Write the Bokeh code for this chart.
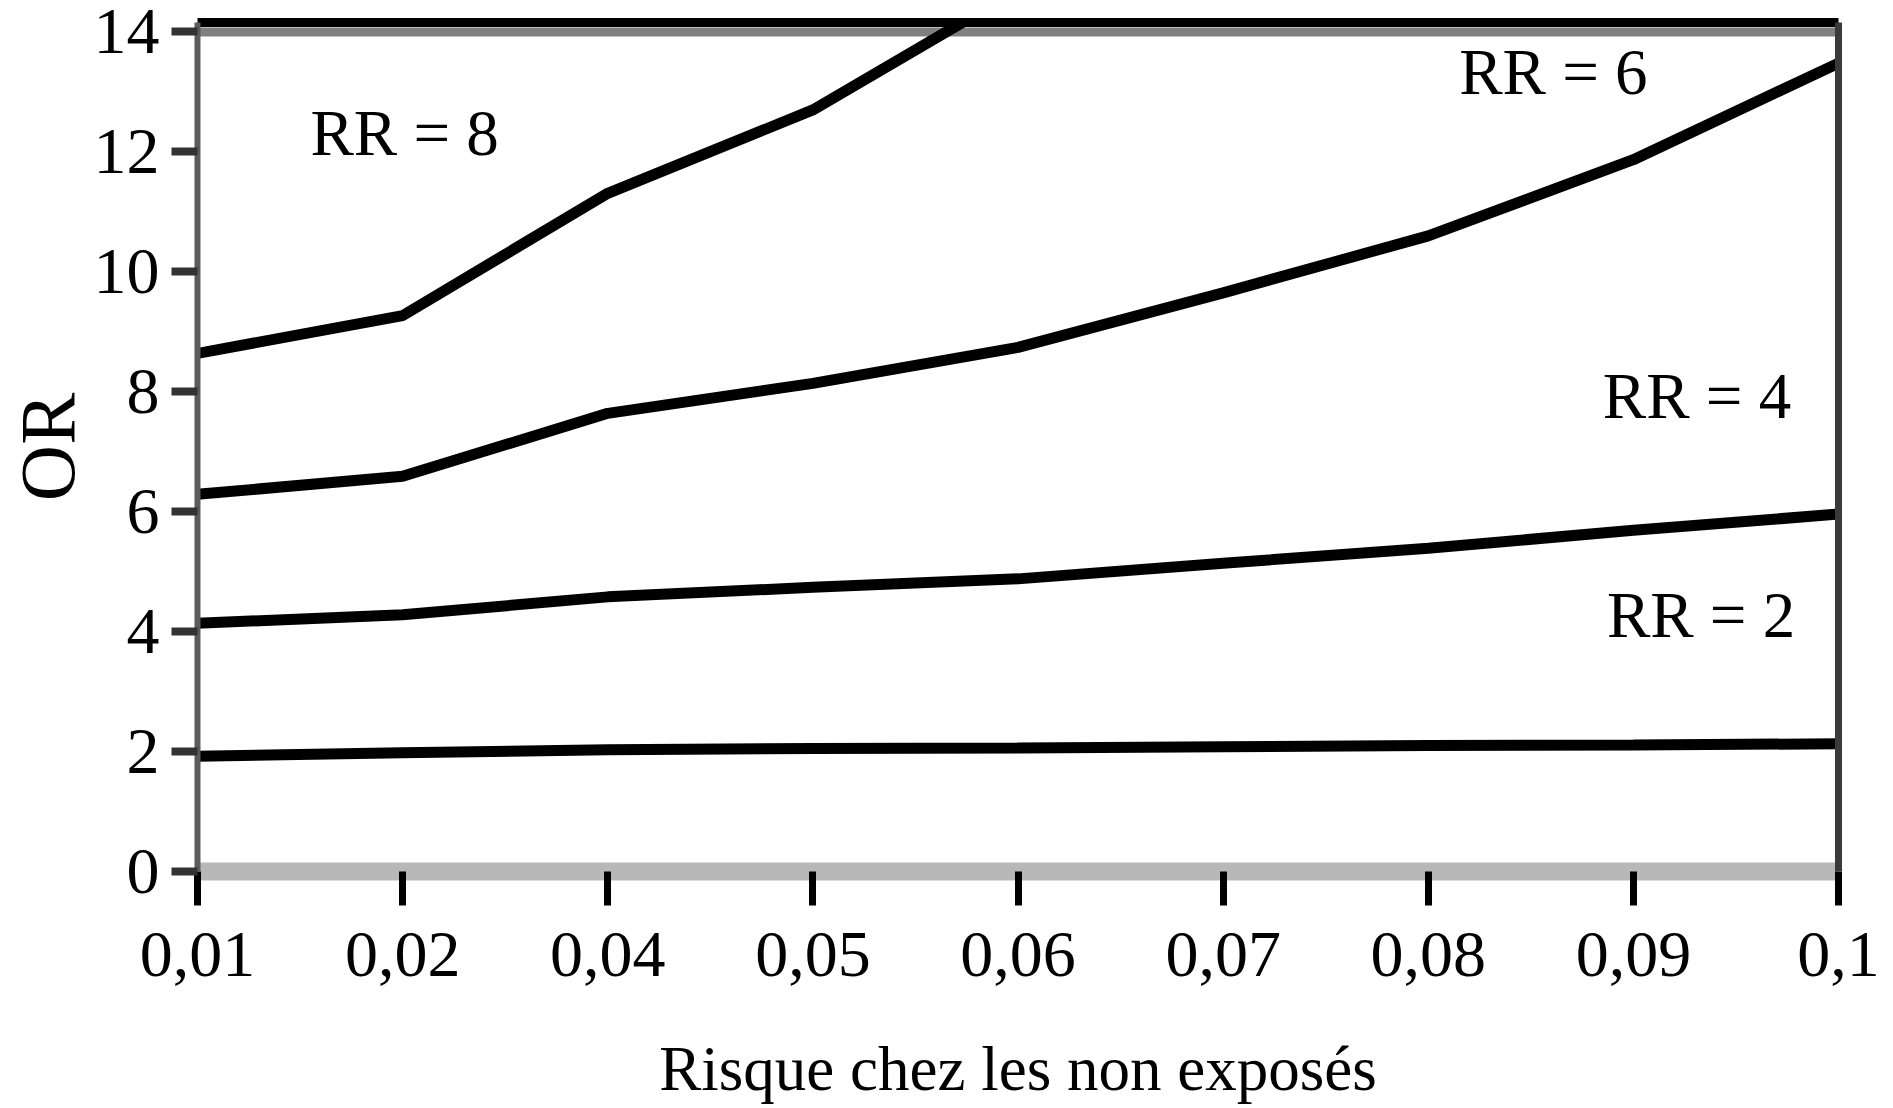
from bokeh.plotting import figure
from bokeh.models import Range1d, FixedTicker, LinearAxis, Span
from bokeh.core.properties import value
from bokeh.embed import file_html
from bokeh.resources import INLINE

# ---- data ----
categories = ["0,01", "0,02", "0,04", "0,05", "0,06", "0,07", "0,08", "0,09", "0,1"]
rr2 = [1.92, 1.98, 2.03, 2.05, 2.06, 2.08, 2.10, 2.11, 2.13]
rr4 = [4.14, 4.28, 4.58, 4.74, 4.88, 5.14, 5.39, 5.69, 5.96]
rr6 = [6.29, 6.59, 7.64, 8.14, 8.74, 9.65, 10.60, 11.87, 13.48]
rr8 = [8.64, 9.27, 11.31, 12.70, 14.70]
series_labels = ["RR = 2", "RR = 4", "RR = 6", "RR = 8"]
y_ticks = [0, 2, 4, 6, 8, 10, 12, 14]
x_title = "Risque chez les non exposés"
y_title = "OR"

# label anchor positions (category index, OR value at text centre)
label_x = [7.33, 7.31, 6.61, 1.01]
label_y = [4.27, 7.93, 13.34, 12.32]

FONT = "Liberation Serif"

xs = list(range(len(categories)))

p = figure(width=1893, height=1106,
           x_range=Range1d(0, len(categories) - 1),
           y_range=Range1d(0, 14.158),
           output_backend="svg", toolbar_location=None,
           min_border_left=195, min_border_right=55,
           min_border_top=22, min_border_bottom=233)
p.outline_line_color = None
p.xgrid.visible = False
p.ygrid.visible = False
p.background_fill_color = "white"
p.border_fill_color = "white"

# gray band at OR = 14
p.add_layout(Span(location=14, dimension="width", line_color="#808080",
                  line_width=9, level="underlay"))

# series
for ys in (rr2, rr4, rr6):
    p.line(xs, ys, line_color="black", line_width=11)
p.line(xs[:len(rr8)], rr8, line_color="black", line_width=11)

p.text(x=label_x, y=label_y, text=series_labels,
       text_font=value(FONT), text_font_size="65px",
       text_align="center", text_baseline="middle", text_color="black")

# bottom axis
xa = p.xaxis[0]
xa.ticker = FixedTicker(ticks=xs)
xa.major_label_overrides = {i: c for i, c in zip(xs, categories)}
xa.axis_line_color = "#b8b8b8"
xa.axis_line_width = 18
xa.major_tick_line_color = "black"
xa.major_tick_line_width = 7
xa.major_tick_in = 0
xa.major_tick_out = 34
xa.minor_tick_line_color = None
xa.major_label_text_font = FONT
xa.major_label_text_font_size = "66px"
xa.major_label_text_color = "black"
xa.major_label_standoff = 27
xa.axis_label = x_title
xa.axis_label_text_font = FONT
xa.axis_label_text_font_size = "63px"
xa.axis_label_text_font_style = "normal"
xa.axis_label_text_color = "black"
xa.axis_label_standoff = 55

# left axis
ya = p.yaxis[0]
ya.ticker = FixedTicker(ticks=y_ticks)
ya.axis_line_color = "#5c5c5c"
ya.axis_line_width = 6
ya.major_tick_line_color = "#333333"
ya.major_tick_line_width = 8
ya.major_tick_in = 0
ya.major_tick_out = 26
ya.minor_tick_line_color = None
ya.major_label_text_font = FONT
ya.major_label_text_font_size = "66px"
ya.major_label_text_color = "black"
ya.major_label_standoff = 12
ya.axis_label = y_title
ya.axis_label_text_font = FONT
ya.axis_label_text_font_size = "78px"
ya.axis_label_text_font_style = "normal"
ya.axis_label_text_color = "black"
ya.axis_label_standoff = 0

# top and right border lines
top = LinearAxis(ticker=FixedTicker(ticks=[]), axis_line_color="black",
                 axis_line_width=9, major_tick_out=0, major_tick_in=0,
                 minor_tick_out=0, minor_tick_in=0,
                 major_label_standoff=0, major_label_text_font_size="0px")
p.add_layout(top, "above")
right = LinearAxis(ticker=FixedTicker(ticks=[]), axis_line_color="#3a3a3a",
                   axis_line_width=7, major_tick_out=0, major_tick_in=0,
                   minor_tick_out=0, minor_tick_in=0,
                   major_label_standoff=0, major_label_text_font_size="0px")
p.add_layout(right, "right")

open("out.html", "w").write(file_html(p, INLINE))
